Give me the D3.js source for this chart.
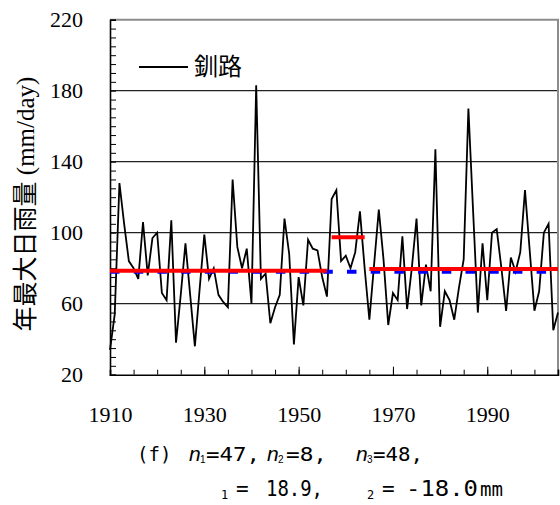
<!DOCTYPE html>
<html>
<head>
<meta charset="utf-8">
<script src="https://cdn.jsdelivr.net/npm/d3@7"></script>
<style>
body { margin: 0; background: #fff; }
svg { display: block; }
.serif { font-family: 'Liberation Serif', 'Times New Roman', Times, 'DejaVu Serif', serif; }
</style>
</head>
<body>
<div id="chart"></div>
<script>
// annual max daily rainfall, Kushiro, one value per year from first_year
const first_year = 1910;
const rain = [
    34, 54, 128, 105, 84, 80, 74, 106, 76, 97,
    100, 66, 62, 107, 38, 65, 94, 65, 36, 68,
    99, 74, 80, 65, 61, 58, 130, 92, 80, 91,
    60, 183, 74, 77, 49, 58, 65, 108, 88, 37,
    75, 59, 96, 91, 90, 75, 64, 119, 124, 84,
    87, 80, 89, 112, 80, 51, 82, 113, 85, 48,
    66, 62, 98, 57, 80, 108, 59, 82, 67, 147,
    47, 67, 62, 51, 69, 85, 170, 112, 55, 94,
    62, 100, 102, 80, 56, 86, 78, 89, 124, 90,
    56, 67, 100, 105, 45, 55
];
// period means (red) and overall mean (blue dashed)
const seg_start = [1910, 1957, 1965];
const seg_end = [1956, 1964, 2005];
const seg_mean = [78.6, 97.5, 79.5];
const all_mean = 78.0;

const y_labels = [20, 60, 100, 140, 180, 220];
const grid_vals = [60, 100, 140, 180];
const x_labels = [1910, 1930, 1950, 1970, 1990];
const station = '釧路';

const width = 560, height = 505;
const plot = {left: 110, right: 558, top: 19.7, bottom: 374.7};

const svg = d3.select('#chart').append('svg')
    .attr('width', width)
    .attr('height', height);

svg.append('rect')
    .attr('width', width).attr('height', height)
    .attr('fill', '#fff');

const x = d3.scaleLinear()
    .domain([1910, 2005])
    .range([plot.left, plot.right]);
const y = d3.scaleLinear()
    .domain([20, 220])
    .range([plot.bottom, plot.top]);

// gridlines
svg.append('g').selectAll('line')
    .data(grid_vals)
    .enter()
  .append('line')
    .attr('x1', plot.left).attr('x2', plot.right)
    .attr('y1', d => y(d)).attr('y2', d => y(d))
    .attr('stroke', '#222')
    .attr('stroke-width', 1.2);

// top + right frame (grey)
svg.append('path')
    .attr('d', `M${plot.left},${y(220)}H${x(2005)}V${y(20)}`)
    .attr('fill', 'none')
    .attr('stroke', '#8c8c8c')
    .attr('stroke-width', 2);

// y axis, minor ticks inward every 5
svg.append('g')
    .attr('transform', `translate(${plot.left},0)`)
    .call(d3.axisLeft(y).tickValues(d3.range(20, 221, 5)).tickSize(-6).tickFormat(''))
    .call(g => g.select('.domain').attr('stroke-width', 1.6));
svg.append('g')
    .attr('transform', `translate(${plot.left},0)`)
    .call(d3.axisLeft(y).tickValues(y_labels).tickSize(0).tickPadding(27))
    .call(g => g.select('.domain').remove())
    .call(g => g.attr('font-family', null).attr('font-size', null))
    .selectAll('text')
        .attr('class', 'serif')
        .style('font-size', '22px')
        .attr('fill', '#000');

// x axis
svg.append('g')
    .attr('transform', `translate(0,${plot.bottom})`)
    .call(d3.axisBottom(x).tickValues(d3.range(1910, 2006, 5)).tickSize(-5).tickFormat(''))
    .call(g => g.select('.domain').attr('stroke-width', 1.6));
svg.append('g')
    .attr('transform', `translate(0,${plot.bottom})`)
    .call(d3.axisBottom(x).tickValues(x_labels).tickSize(-8).tickPadding(32).tickFormat(d3.format('d')))
    .call(g => g.select('.domain').remove())
    .call(g => g.attr('font-family', null).attr('font-size', null))
    .selectAll('text')
        .attr('class', 'serif')
        .style('font-size', '22px')
        .attr('fill', '#000');

// rainfall series
const line = d3.line()
    .x((d, i) => x(first_year + i))
    .y(d => y(d));
svg.append('path')
    .datum(rain)
    .attr('d', line)
    .attr('fill', 'none')
    .attr('stroke', '#000')
    .attr('stroke-width', 1.8)
    .attr('stroke-linejoin', 'miter');

// overall mean, blue dashed
svg.append('line')
    .attr('x1', x(1910)).attr('x2', x(2005))
    .attr('y1', y(all_mean)).attr('y2', y(all_mean))
    .attr('stroke', '#0000ff')
    .attr('stroke-width', 4)
    .attr('stroke-dasharray', '9.5,14.2');

// period means, red
svg.append('g').selectAll('line')
    .data(seg_mean)
    .enter()
  .append('line')
    .attr('x1', (d, i) => x(seg_start[i]))
    .attr('x2', (d, i) => x(seg_end[i]))
    .attr('y1', d => y(d)).attr('y2', d => y(d))
    .attr('stroke', '#ff0000')
    .attr('stroke-width', 4);

// legend
svg.append('line')
    .attr('x1', 139).attr('x2', 188)
    .attr('y1', 67).attr('y2', 67)
    .attr('stroke', '#000').attr('stroke-width', 1.8);
svg.append('text')
    .attr('x', 194).attr('y', 75)
    .style('font-family', "'Noto Sans CJK JP', sans-serif")
    .style('font-size', '24px')
    .text(station);

// y title
const yt = svg.append('text')
    .attr('transform', 'translate(34,204) rotate(-90)')
    .attr('text-anchor', 'middle');
yt.append('tspan')
    .style('font-family', "'Noto Sans CJK JP', sans-serif")
    .style('font-size', '25px')
    .text('年最大日雨量');
yt.append('tspan')
    .attr('class', 'serif')
    .style('font-size', '25px')
    .text(' (mm/day)');

// caption
const mono = "'DejaVu Sans Mono', monospace";
const cap = svg.append('g').attr('fill', '#000');
const put = (txt, px, py, opts) => {
    const t = cap.append('text')
        .attr('x', px).attr('y', py)
        .attr('fill', '#000')
        .style('font-family', (opts && opts.family) || mono)
        .style('font-size', ((opts && opts.size) || 20) + 'px')
        .text(txt);
    if (opts && opts.italic) t.style('font-style', 'italic');
    if (opts && opts.len) t.attr('textLength', opts.len).attr('lengthAdjust', 'spacingAndGlyphs');
    return t;
};
const ital = {family: "'Liberation Sans', sans-serif", size: 21, italic: true};
const sub = {family: "'Liberation Sans', sans-serif", size: 10};
put('(f)', 137, 461, {size: 19});
put('n', 189, 461, ital); put('1', 200, 463, sub); put('=47,', 206, 461, {len: 54});
put('n', 267, 461, ital); put('2', 278, 463, sub); put('=8,', 286, 461, {len: 41});
put('n', 356, 461, ital); put('3', 367, 463, sub); put('=48,', 373, 461, {len: 50});

put('1', 221, 499, {size: 12});
put('=', 236, 496, {size: 21});
put('18.9,', 266, 496, {size: 21, len: 57});
put('2', 367, 499, {size: 12});
put('=', 382, 496, {size: 21});
put('-18.0', 406, 496, {size: 21, len: 72});
put('mm', 480, 496, {size: 19, len: 23});
</script>
</body>
</html>
